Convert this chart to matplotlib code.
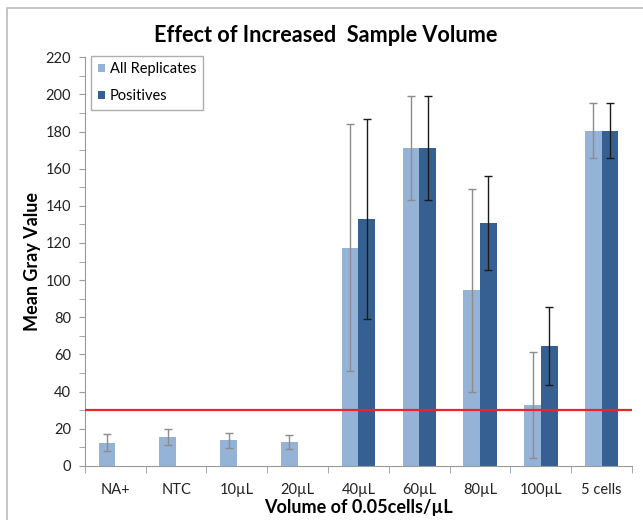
import numpy as np
import matplotlib.pyplot as plt
from matplotlib.patches import Rectangle
from matplotlib.ticker import MultipleLocator

plt.rcParams['font.family'] = ['Lato', 'DejaVu Sans']

categories = ['NA+', 'NTC', '10µL', '20µL', '40µL', '60µL', '80µL', '100µL', '5 cells']
all_mean = [12.5, 15.5, 13.7, 12.8, 117.5, 171, 94.5, 33, 180.5]
all_err = [4.6, 4.3, 3.9, 3.9, 66.5, 28, 54.5, 28.5, 15]
pos_mean = [np.nan, np.nan, np.nan, np.nan, 133, 171, 130.8, 64.8, 180.5]
pos_err = [np.nan, np.nan, np.nan, np.nan, 54, 28, 25.3, 21, 15]
threshold = 30

light = '#95b3d7'
dark = '#376092'

fig = plt.figure(figsize=(6.43, 5.2), dpi=100)
ax = fig.add_axes([0.132, 0.104, 0.851, 0.786])

x = np.arange(len(categories))
w = 0.275
ax.bar(x - w / 2, all_mean, w, color=light, label='All Replicates', zorder=2)
ax.bar(x + w / 2, pos_mean, w, color=dark, label='Positives', zorder=2)
ax.errorbar(x - w / 2, all_mean, yerr=all_err, fmt='none', ecolor='#8c8c8c',
            elinewidth=1, capsize=3, capthick=1, zorder=3)
ax.errorbar(x + w / 2, pos_mean, yerr=pos_err, fmt='none', ecolor='#1a1a1a',
            elinewidth=1, capsize=3, capthick=1, zorder=3)
ax.axhline(threshold, color='#e8262a', lw=1.6, zorder=4)

ax.set_xlim(-0.5, len(categories) - 0.5)
ax.set_ylim(0, 220)
ax.yaxis.set_major_locator(MultipleLocator(20))
ax.yaxis.set_minor_locator(MultipleLocator(10))
ax.set_xticks(x)
ax.set_xticklabels(categories)
ax.set_xticks(np.arange(-0.5, len(categories), 1), minor=True)
ax.tick_params(axis='x', which='major', length=0, pad=12, labelsize=10.5, labelcolor='#222222')
ax.tick_params(axis='x', which='minor', length=5, color='#999999')
ax.tick_params(axis='y', which='both', length=4, color='#999999', labelsize=10.5,
               labelcolor='#222222', pad=6)

for s in ['top', 'right']:
    ax.spines[s].set_visible(False)
for s in ['left', 'bottom']:
    ax.spines[s].set_color('#999999')

fig.text(326 / 643, 1 - 35 / 520, 'Effect of Increased  Sample Volume', fontsize=15.6,
         fontweight='bold', ha='center', va='center')
ax.set_ylabel('Mean Gray Value', fontsize=13, fontweight='bold', labelpad=3)
ax.set_xlabel('Volume of 0.05cells/µL', fontsize=13, fontweight='bold', labelpad=2)

leg = ax.legend(loc='upper left', bbox_to_anchor=(0.012, 1.004), fontsize=10.5,
                fancybox=False, edgecolor='#999999', handlelength=0.5,
                handleheight=0.5, handletextpad=0.3, labelspacing=0.9,
                borderpad=0.45, borderaxespad=0)
leg.get_frame().set_linewidth(1)

fig.patches.append(Rectangle((7 / 643, -0.1), 1.2, 1 - 8 / 520 + 0.1,
                             transform=fig.transFigure, fill=False,
                             edgecolor='#bbbbbb', lw=1.2))

fig.savefig('out.png', dpi=100)
